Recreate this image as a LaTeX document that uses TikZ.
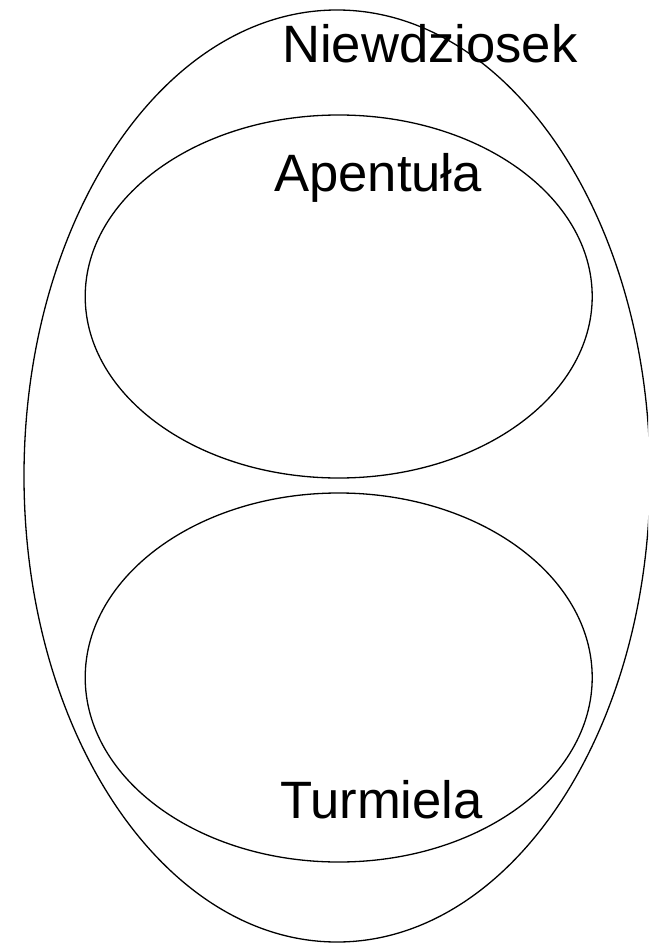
\documentclass[tikz,border=0pt]{standalone}
\usepackage{fontspec}
\setmainfont{Liberation Sans}
\begin{document}
\begin{tikzpicture}[x=1pt,y=-1pt,
  ring/.style={draw=black,line width=1.3pt},
  lbl/.style={anchor=base west,inner sep=0pt,font=\fontsize{52.6}{60}\selectfont}]
\useasboundingbox (0,0) rectangle (648,944);
\clip (0,0) rectangle (648,944);
\draw[ring] (337,476) ellipse [x radius=313, y radius=466];
\draw[ring] (338.7,296.5) ellipse [x radius=253.5, y radius=181.5];
\draw[ring] (338.7,677.5) ellipse [x radius=253.5, y radius=184.5];
\node[lbl] (outer) at (282,63) {Niewdziosek};
\node[lbl] (apent) at (274,191) {Apentuła};
\node[lbl] (turm) at (280,818) {Turmiela};
\end{tikzpicture}
\end{document}
